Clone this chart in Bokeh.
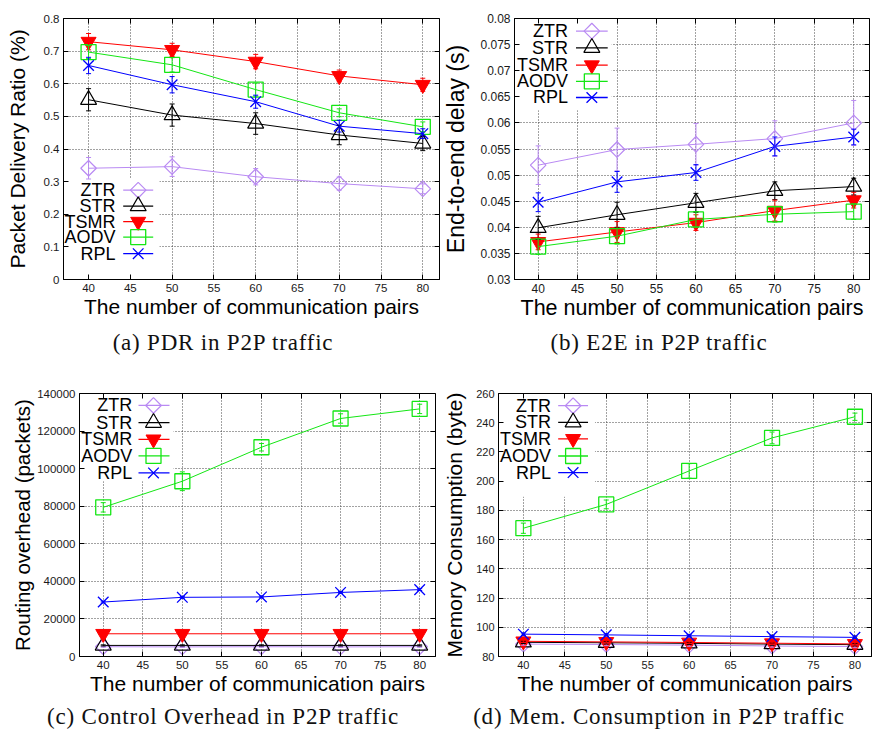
import math
from bokeh.plotting import figure
from bokeh.models import (ColumnDataSource, Whisker, TeeHead, FixedTicker, LinearAxis,
                          Range1d, BoxAnnotation, Div)
from bokeh.layouts import column, row
from bokeh.embed import file_html
from bokeh.resources import INLINE
from bokeh.core.properties import value

# ---------------- data ----------------
PAIRS = [40, 50, 60, 70, 80]
SERIES = ["ZTR", "STR", "TSMR", "AODV", "RPL"]
X_TICKS = [40, 45, 50, 55, 60, 65, 70, 75, 80]
X_TICK_LABELS = ["40", "45", "50", "55", "60", "65", "70", "75", "80"]
X_LABEL = "The number of communication pairs"

# (a) Packet delivery ratio
PDR_ZTR = [0.341, 0.346, 0.315, 0.294, 0.278]
PDR_STR = [0.551, 0.504, 0.478, 0.443, 0.417]
PDR_TSMR = [0.729, 0.704, 0.668, 0.624, 0.597]
PDR_AODV = [0.697, 0.658, 0.582, 0.511, 0.468]
PDR_RPL = [0.656, 0.597, 0.545, 0.470, 0.447]
PDR_ZTR_ERR = [0.033, 0.030, 0.025, 0.020, 0.015]
PDR_STR_ERR = [0.034, 0.034, 0.033, 0.030, 0.022]
PDR_TSMR_ERR = [0.025, 0.020, 0.022, 0.018, 0.020]
PDR_AODV_ERR = [0.020, 0.022, 0.020, 0.012, 0.015]
PDR_RPL_ERR = [0.025, 0.025, 0.020, 0.018, 0.015]
PDR_Y_TICKS = [0, 0.1, 0.2, 0.3, 0.4, 0.5, 0.6, 0.7, 0.8]
PDR_Y_TICK_LABELS = ["0", "0.1", "0.2", "0.3", "0.4", "0.5", "0.6", "0.7", "0.8"]

# (b) End-to-end delay
E2E_ZTR = [0.0519, 0.0549, 0.0559, 0.0570, 0.0600]
E2E_STR = [0.0399, 0.0424, 0.0447, 0.0470, 0.0478]
E2E_TSMR = [0.0372, 0.0391, 0.0409, 0.0432, 0.0452]
E2E_AODV = [0.0363, 0.0383, 0.0415, 0.0425, 0.0430]
E2E_RPL = [0.0448, 0.0487, 0.0505, 0.0555, 0.0573]
E2E_ZTR_ERR = [0.0037, 0.0041, 0.0040, 0.0034, 0.0043]
E2E_STR_ERR = [0.0022, 0.0024, 0.0018, 0.0017, 0.0016]
E2E_TSMR_ERR = [0.0015, 0.0020, 0.0015, 0.0020, 0.0015]
E2E_AODV_ERR = [0.0015, 0.0015, 0.0015, 0.0015, 0.0015]
E2E_RPL_ERR = [0.0018, 0.0020, 0.0015, 0.0018, 0.0015]
E2E_Y_TICKS = [0.03, 0.035, 0.04, 0.045, 0.05, 0.055, 0.06, 0.065, 0.07, 0.075, 0.08]
E2E_Y_TICK_LABELS = ["0.03", "0.035", "0.04", "0.045", "0.05", "0.055", "0.06",
                     "0.065", "0.07", "0.075", "0.08"]

# (c) Routing overhead
OVH_ZTR = [5200, 5100, 5200, 5100, 5200]
OVH_STR = [5900, 5900, 5900, 5900, 5900]
OVH_TSMR = [12100, 12100, 12100, 12100, 12100]
OVH_AODV = [79400, 93300, 111400, 126700, 131800]
OVH_RPL = [29000, 31500, 31700, 34100, 35600]
OVH_ZTR_ERR = [300, 300, 300, 300, 300]
OVH_STR_ERR = [300, 300, 300, 300, 300]
OVH_TSMR_ERR = [300, 300, 300, 300, 300]
OVH_AODV_ERR = [2500, 5000, 2000, 2500, 2500]
OVH_RPL_ERR = [500, 500, 500, 500, 500]
OVH_Y_TICKS = [0, 20000, 40000, 60000, 80000, 100000, 120000, 140000]
OVH_Y_TICK_LABELS = ["0", "20000", "40000", "60000", "80000", "100000", "120000", "140000"]

# (d) Memory consumption
MEM_ZTR = [88.5, 88.2, 87.8, 87.2, 86.8]
MEM_STR = [89.7, 89.4, 89.0, 88.5, 88.1]
MEM_TSMR = [90.4, 90.0, 89.6, 89.1, 88.6]
MEM_AODV = [167.8, 184.1, 207.0, 229.6, 244.1]
MEM_RPL = [95.3, 94.8, 94.2, 93.6, 93.1]
MEM_ZTR_ERR = [0.8, 0.8, 0.8, 0.8, 0.8]
MEM_STR_ERR = [0.8, 0.8, 0.8, 0.8, 0.8]
MEM_TSMR_ERR = [0.8, 0.8, 0.8, 0.8, 0.8]
MEM_AODV_ERR = [3.5, 3.0, 5.0, 4.0, 2.5]
MEM_RPL_ERR = [0.8, 0.8, 0.8, 0.8, 0.8]
MEM_Y_TICKS = [80, 100, 120, 140, 160, 180, 200, 220, 240, 260]
MEM_Y_TICK_LABELS = ["80", "100", "120", "140", "160", "180", "200", "220", "240", "260"]

CAPTIONS = ["(a) PDR in P2P traffic", "(b) E2E in P2P traffic",
            "(c) Control Overhead in P2P traffic", "(d) Mem. Consumption in P2P traffic"]

# ---------------- styles ----------------
X_RANGE = (37, 82)
COLORS = {"ZTR": "#b98af3", "STR": "#000000", "TSMR": "#ff0000", "AODV": "#14e614", "RPL": "#0000ff"}
MARKERS = {
    "ZTR": dict(marker="square", angle=math.pi / 4, size=11, fill_color=None, line_width=1.2),
    "STR": dict(marker="triangle", size=16, fill_color=None, line_width=1.2),
    "TSMR": dict(marker="inverted_triangle", size=15, line_width=1.0),
    "AODV": dict(marker="square", size=15, fill_color=None, line_width=1.3),
    "RPL": dict(marker="x", size=15, line_width=1.3),
}
SANS = "Liberation Sans"


def style_marker(name):
    kw = dict(MARKERS[name])
    kw["line_color"] = COLORS[name]
    if "fill_color" not in kw:
        kw["fill_color"] = COLORS[name]
    return kw


def make_panel(vals, errs, y_range, y_ticks, y_tick_labels, y_label, width, height,
               bl, br, bt, bb, tick_px, xlabel_px, ylabel_px, ylabel_standoff, legend):
    p = figure(width=width, height=height, output_backend="svg", toolbar_location=None,
               x_range=Range1d(*X_RANGE), y_range=Range1d(*y_range),
               min_border_left=bl, min_border_right=br, min_border_top=bt, min_border_bottom=bb,
               background_fill_color="white", border_fill_color="white", margin=0)
    p.outline_line_color = "black"
    p.outline_line_width = 1
    p.outline_line_alpha = 1

    xa = p.xaxis[0]
    ya = p.yaxis[0]
    xa.ticker = FixedTicker(ticks=X_TICKS)
    ya.ticker = FixedTicker(ticks=y_ticks)
    xa.major_label_overrides = dict(zip(X_TICKS, X_TICK_LABELS))
    ya.major_label_overrides = dict(zip(y_ticks, y_tick_labels))
    xa.axis_label = X_LABEL
    ya.axis_label = y_label
    for ax in (xa, ya):
        ax.major_tick_in = 5
        ax.major_tick_out = 0
        ax.minor_tick_line_color = None
        ax.axis_line_color = "black"
        ax.major_tick_line_color = "black"
        ax.major_label_text_font = SANS
        ax.major_label_text_font_size = f"{tick_px}px"
        ax.major_label_text_color = "#1a1a1a"
        ax.axis_label_text_font = SANS
        ax.axis_label_text_font_style = "normal"
        ax.axis_label_text_color = "black"
    xa.major_label_standoff = 4
    ya.major_label_standoff = 4
    xa.axis_label_standoff = 0
    ya.axis_label_standoff = ylabel_standoff
    xa.axis_label_text_font_size = f"{xlabel_px}px"
    ya.axis_label_text_font_size = f"{ylabel_px}px"

    # mirrored inward ticks
    for loc, ticks in (("right", y_ticks), ("above", X_TICKS)):
        m = LinearAxis(ticker=FixedTicker(ticks=ticks),
                       major_label_overrides={t: "" for t in ticks},
                       major_label_standoff=0, major_tick_in=5, major_tick_out=0,
                       minor_tick_line_color=None, axis_line_color=None,
                       major_label_text_font_size="1px")
        p.add_layout(m, loc)

    for g, ticks in ((p.xgrid[0], X_TICKS), (p.ygrid[0], y_ticks)):
        g.ticker = FixedTicker(ticks=ticks)
        g.grid_line_color = "#444444"
        g.grid_line_dash = "1 2"
        g.grid_line_width = 1
        g.grid_line_alpha = 1

    # frame geometry used to place the key (legend) in frame pixels
    fw = width - bl - br
    fh = height - bt - bb

    def to_x(px):
        return X_RANGE[0] + px / fw * (X_RANGE[1] - X_RANGE[0])

    def to_y(py):
        return y_range[1] - py / fh * (y_range[1] - y_range[0])

    bx0, bx1, by0, by1 = legend["box"]
    p.add_layout(BoxAnnotation(left=to_x(bx0), right=to_x(bx1), top=to_y(by0), bottom=to_y(by1),
                               fill_color="white", fill_alpha=1, line_color=None,
                               level="underlay"))

    # series
    for name in SERIES:
        c = COLORS[name]
        v = vals[name]
        e = errs[name]
        src = ColumnDataSource(dict(x=PAIRS, y=v,
                                    lo=[a - b for a, b in zip(v, e)],
                                    hi=[a + b for a, b in zip(v, e)]))
        p.line("x", "y", source=src, line_color=c, line_width=1)
        p.add_layout(Whisker(source=src, base="x", lower="lo", upper="hi",
                             line_color=c, line_width=1, level="glyph",
                             upper_head=TeeHead(size=5, line_color=c, line_width=1),
                             lower_head=TeeHead(size=5, line_color=c, line_width=1)))
        p.scatter("x", "y", source=src, **style_marker(name))

    # key
    rows = legend["rows"]
    ys = [to_y(r) for r in rows]
    p.text(x=[to_x(legend["text_right"])] * len(SERIES), y=ys, text=SERIES,
           text_align="right", text_baseline="middle", text_font=value(SANS),
           text_font_size=f"{legend['font']}px", text_color="black")
    sx0, sx1 = legend["sample"]
    for name, yv in zip(SERIES, ys):
        p.segment(x0=[to_x(sx0)], x1=[to_x(sx1)], y0=[yv], y1=[yv],
                  line_color=COLORS[name], line_width=1.3)
        p.scatter(x=[to_x(legend["marker"])], y=[yv], **style_marker(name))
    return p


def caption(text, width):
    return Div(text=text, width=width, height=22, margin=0,
               styles={"text-align": "center", "font-family": "'Liberation Serif', serif",
                       "font-size": "23px", "letter-spacing": "0.8px", "line-height": "22px",
                       "color": "#111111", "white-space": "nowrap"})


pa = make_panel(
    dict(ZTR=PDR_ZTR, STR=PDR_STR, TSMR=PDR_TSMR, AODV=PDR_AODV, RPL=PDR_RPL),
    dict(ZTR=PDR_ZTR_ERR, STR=PDR_STR_ERR, TSMR=PDR_TSMR_ERR, AODV=PDR_AODV_ERR, RPL=PDR_RPL_ERR),
    (0, 0.8), PDR_Y_TICKS, PDR_Y_TICK_LABELS, "Packet Delivery Ratio (%)",
    440, 332, 63, 1, 18, 51, 11.5, 21, 21, 12,
    dict(rows=[173, 189, 204.7, 220.3, 237], text_right=52, sample=(59.7, 89.7), marker=74.7,
         box=(1, 96, 161, 262), font=18))

pb = make_panel(
    dict(ZTR=E2E_ZTR, STR=E2E_STR, TSMR=E2E_TSMR, AODV=E2E_AODV, RPL=E2E_RPL),
    dict(ZTR=E2E_ZTR_ERR, STR=E2E_STR_ERR, TSMR=E2E_TSMR_ERR, AODV=E2E_AODV_ERR, RPL=E2E_RPL_ERR),
    (0.03, 0.08), E2E_Y_TICKS, E2E_Y_TICK_LABELS, "End-to-end delay (s)",
    432, 332, 71, 3, 9, 53, 12, 21.5, 23, 8,
    dict(rows=[13, 30.3, 48.3, 65, 81.7], text_right=54, sample=(62, 94), marker=78,
         box=(1, 98, 1, 95), font=18))

pc = make_panel(
    dict(ZTR=OVH_ZTR, STR=OVH_STR, TSMR=OVH_TSMR, AODV=OVH_AODV, RPL=OVH_RPL),
    dict(ZTR=OVH_ZTR_ERR, STR=OVH_STR_ERR, TSMR=OVH_TSMR_ERR, AODV=OVH_AODV_ERR, RPL=OVH_RPL_ERR),
    (0, 140000), OVH_Y_TICKS, OVH_Y_TICK_LABELS, "Routing overhead (packets)",
    440, 352, 79, 5, 39, 49, 11.5, 21, 20.5, 0,
    dict(rows=[12, 29.3, 46, 62.7, 79.7], text_right=52.7, sample=(59, 90), marker=74,
         box=(1, 94, 1, 88), font=18))

pd_ = make_panel(
    dict(ZTR=MEM_ZTR, STR=MEM_STR, TSMR=MEM_TSMR, AODV=MEM_AODV, RPL=MEM_RPL),
    dict(ZTR=MEM_ZTR_ERR, STR=MEM_STR_ERR, TSMR=MEM_TSMR_ERR, AODV=MEM_AODV_ERR, RPL=MEM_RPL_ERR),
    (80, 260), MEM_Y_TICKS, MEM_Y_TICK_LABELS, "Memory Consumption (byte)",
    432, 352, 56, 1, 37, 50, 11, 21, 21, 7,
    dict(rows=[12.3, 29, 45.7, 63, 79.7], text_right=52.7, sample=(60, 90), marker=75,
         box=(1, 97, 1, 104), font=18))

layout = column(row(pa, pb, margin=0),
                row(caption(CAPTIONS[0], 446), caption(CAPTIONS[1], 426), margin=0),
                row(pc, pd_, margin=0),
                row(caption(CAPTIONS[2], 446), caption(CAPTIONS[3], 426), margin=0),
                margin=0)

with open("out.html", "w") as f:
    f.write(file_html(layout, INLINE))
